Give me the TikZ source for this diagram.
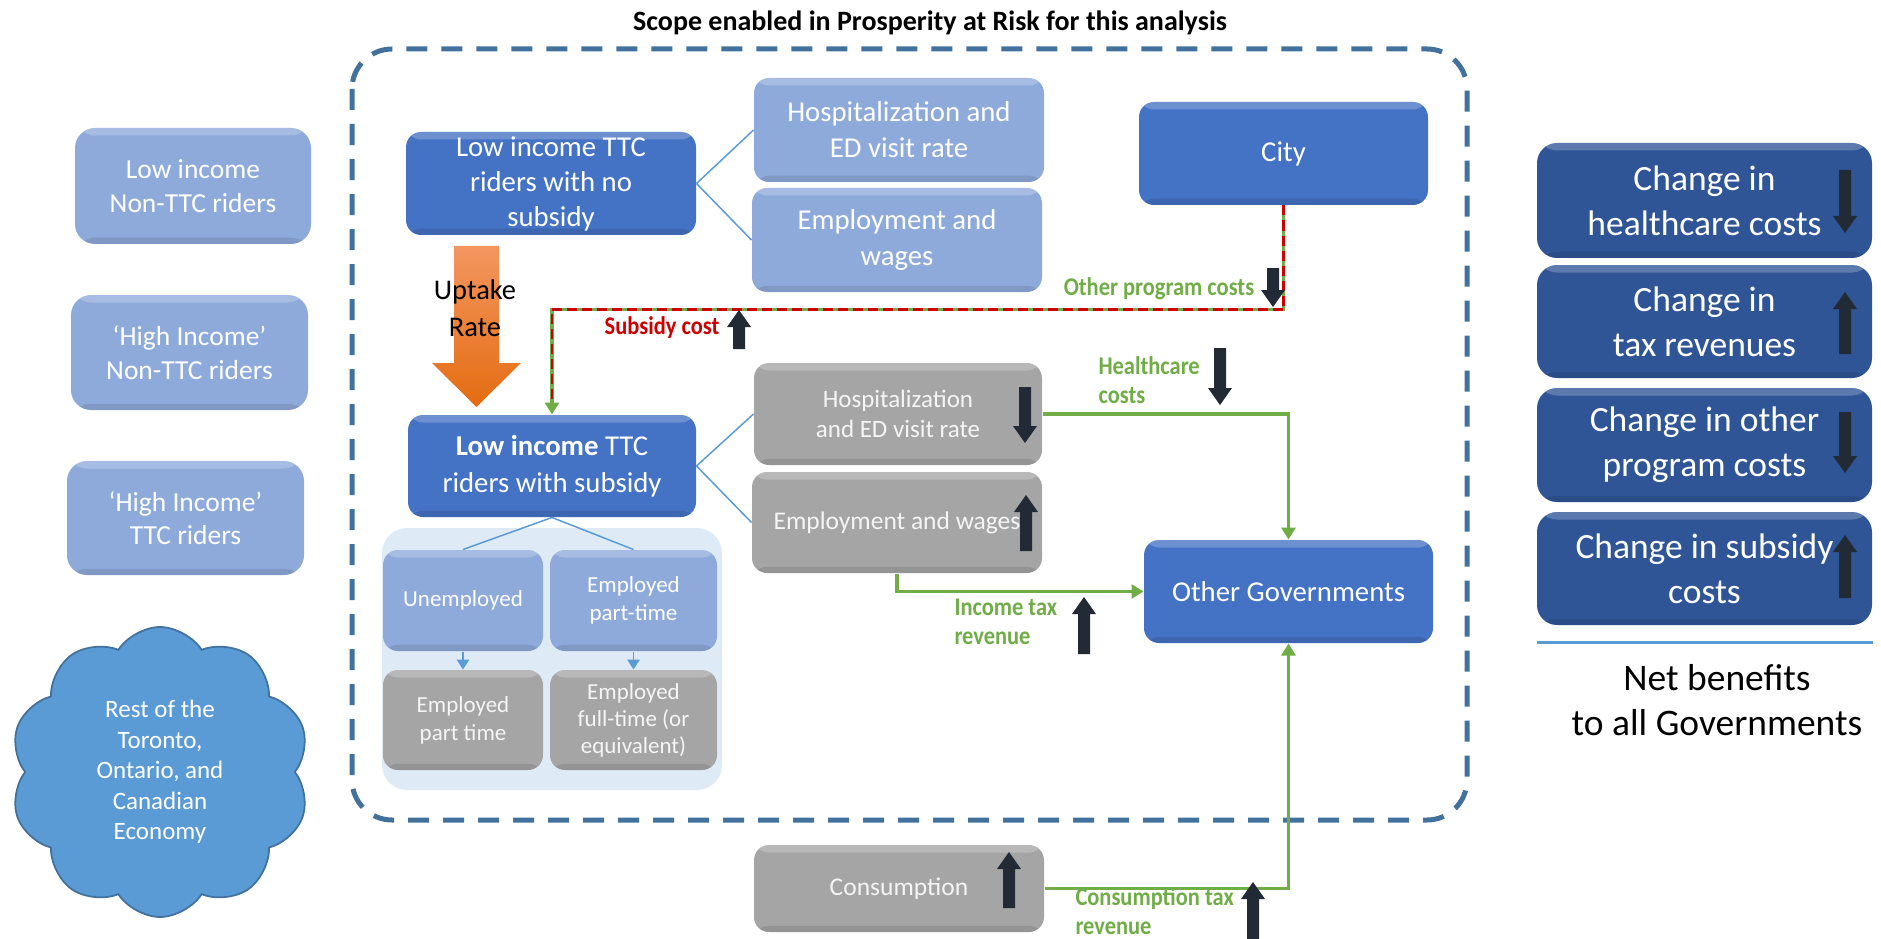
\documentclass[tikz,border=0pt]{standalone}
\usepackage{fontspec}
\setmainfont{Carlito}
\newfontfamily\lblfont[FakeStretch=0.88]{Carlito}
\usetikzlibrary{shapes.symbols,arrows.meta,calc}

\definecolor{lb}{RGB}{142,170,219}
\definecolor{mb}{RGB}{68,114,196}
\definecolor{db}{RGB}{47,85,151}
\definecolor{gr}{RGB}{165,165,165}
\definecolor{cl}{RGB}{91,155,213}
\definecolor{cledge}{RGB}{65,113,156}
\definecolor{pan}{RGB}{222,235,247}
\definecolor{grn}{RGB}{112,173,71}
\definecolor{rd}{RGB}{204,0,0}
\definecolor{nav}{RGB}{34,42,53}
\definecolor{dsh}{RGB}{65,113,156}
\definecolor{conn}{RGB}{91,155,213}
\definecolor{orlight}{RGB}{243,150,95}
\definecolor{ordark}{RGB}{228,108,18}

\newcommand\fsz[2]{\fontsize{#1}{#2}\selectfont}
\newcommand\UpArr[3]{\fill[nav] (#1-6,#3) -- (#1+6,#3) -- (#1+6,#2+17) -- (#1+12,#2+17) -- (#1,#2) -- (#1-12,#2+17) -- (#1-6,#2+17) -- cycle;}
\newcommand\DnArr[3]{\fill[nav] (#1-6,#2) -- (#1+6,#2) -- (#1+6,#3-17) -- (#1+12,#3-17) -- (#1,#3) -- (#1-12,#3-17) -- (#1-6,#3-17) -- cycle;}

\tikzset{
  sz/.style 2 args={minimum width={#1*0.4pt}, minimum height={#2*0.4pt}},
  bev/.style={rounded corners=6pt, text=white, align=center, inner sep=0pt,
    path picture={
      \fill[white,opacity=0.22] (path picture bounding box.north west) rectangle ([yshift=-3pt]path picture bounding box.north east);
      \fill[black,opacity=0.10] (path picture bounding box.south west) rectangle ([yshift=2.5pt]path picture bounding box.south east);
    }},
  lbox/.style={bev, fill=lb},
  mbox/.style={bev, fill=mb},
  dbox/.style={bev, fill=db, rounded corners=8pt},
  gbox/.style={bev, fill=gr, text={rgb,255:red,245;green,245;blue,245}},
  lbl/.style={font=\lblfont\bfseries\fsz{10.2}{11.8}, inner sep=0pt},
  thin/.style={draw=conn, line width=0.6pt},
  gline/.style={draw=grn, line width=1.3pt, -{Triangle[length=4.8pt,width=5.6pt]}},
}

\begin{document}
\begin{tikzpicture}[x=0.4pt, y=-0.4pt]
\useasboundingbox (0,0) rectangle (1881,939);

% title
\node[font=\bfseries\fsz{11.2}{13}] (title) at (930,23) {Scope enabled in Prosperity at Risk for this analysis};

% scope box
\draw[dsh, line width=2pt, dash pattern=on 8.4pt off 5.6pt, rounded corners=16pt] (352,49) rectangle (1467,820);

% left column
\node[lbox, sz={236}{116}, font=\fsz{11}{13.4}, rounded corners=8pt] (lownon) at (193,186) {Low income\\Non-TTC riders};
\node[lbox, sz={237}{115}, font=\fsz{11}{13.4}, rounded corners=8pt] (highnon) at (189.5,352.5) {‘High Income’\\Non-TTC riders};
\node[lbox, sz={237}{114}, font=\fsz{11}{13.4}, rounded corners=8pt] (highttc) at (185.5,518) {‘High Income’\\TTC riders};

% cloud
\node[cloud, cloud puffs=10, cloud puff arc=115, aspect=1, sz={300}{290}, fill=cl, draw=cledge, line width=0.7pt, text=white, align=center, font=\fsz{10}{12.2}, inner sep=0pt] (cloud) at (160,772) {Rest of the\\Toronto,\\Ontario, and\\Canadian\\Economy};

% panel for employment subgroups
\node[fill=pan, rounded corners=10pt, sz={340}{262}, inner sep=0pt] (panel) at (552,659) {};

% main boxes
\node[mbox, sz={290}{103}, font=\fsz{11.5}{14}] (nosub) at (551,183.5) {Low income TTC\\riders with no\\subsidy};
\node[lbox, sz={290}{104}, font=\fsz{11.5}{14.4}] (tophosp) at (899,130) {Hospitalization and\\ED visit rate};
\node[lbox, sz={290}{104}, font=\fsz{11.5}{14.4}] (topemp) at (897,240) {Employment and\\wages};
\node[mbox, sz={289}{103}, font=\fsz{11.5}{14}] (city) at (1283.5,153.5) {City};
\node[mbox, sz={288}{102}, font=\fsz{11.5}{14.8}] (withsub) at (552,466) {\textbf{Low income} TTC\\riders with subsidy};

\node[lbox, sz={160}{101}, font=\fsz{9.2}{11.2}] (unemp) at (463,600.5) {Unemployed};
\node[lbox, sz={167}{101}, font=\fsz{9.2}{11.2}] (emppt) at (633.5,600.5) {Employed\\part-time};
\node[gbox, sz={160}{100}, font=\fsz{9.2}{11.2}] (greypt) at (463,720) {Employed\\part time};
\node[gbox, sz={167}{100}, font=\fsz{9.2}{10.8}] (greyft) at (633.5,720) {Employed\\full-time (or\\equivalent)};

\node[gbox, sz={288}{102}, font=\fsz{10}{12}] (greyhosp) at (898,414) {Hospitalization\\and ED visit rate};
\node[gbox, sz={290}{101}, font=\fsz{10.2}{12}] (greyemp) at (897,522.5) {Employment and wages};
\node[mbox, sz={289}{103}, font=\fsz{11.5}{14}] (othergov) at (1288.5,591.5) {Other Governments};
\node[gbox, sz={290}{87}, font=\fsz{10.2}{12}] (consum) at (899,888.5) {Consumption};

% right column
\node[dbox, sz={335}{115}, font=\fsz{14.2}{18}] (r1) at (1704.5,200.5) {Change in\\healthcare costs};
\node[dbox, sz={335}{113}, font=\fsz{14.2}{18}] (r2) at (1704.5,321.5) {Change in\\tax revenues};
\node[dbox, sz={335}{114}, font=\fsz{14.2}{18}] (r3) at (1704.5,445) {Change in other\\program costs};
\node[dbox, sz={335}{113}, font=\fsz{14.2}{18}] (r4) at (1704.5,568.5) {Change in subsidy\\costs};
\draw[conn, line width=1.2pt] (r4.south west |- 0,642) coordinate (sepL) -- (r4.south east |- 0,642) coordinate (sepR);
\node[font=\fsz{15}{18}, align=center, inner sep=0pt] (net) at (1717,700) {Net benefits\\to all Governments};

% thin connectors
\draw[thin] (nosub.east) -- (tophosp.west);
\draw[thin] (nosub.east) -- (topemp.west);
\draw[thin] (withsub.east) -- (greyhosp.west);
\draw[thin] (withsub.east) -- (greyemp.west);
\draw[thin] (withsub.south) -- (unemp.north);
\draw[thin] (withsub.south) -- (emppt.north);
\draw[thin, -{Triangle[length=4pt,width=5pt]}] (unemp.south) -- (greypt.north);
\draw[thin, -{Triangle[length=4pt,width=5pt]}] (emppt.south) -- (greyft.north);

% uptake arrow
\shade[top color=orlight, bottom color=ordark] (454,246) -- (499,246) -- (499,363) -- (521,363) -- (476.5,407) -- (432,363) -- (454,363) -- cycle;
\node[font=\fsz{11.4}{14.8}, align=center, inner sep=0pt] (uptake) at (475,308) {Uptake\\Rate};

% green flows
\draw[gline] (city.south) -- ++(0,104) coordinate (cornerA) -| (withsub.north);
\draw[rd, line width=1.1pt, dash pattern=on 4pt off 2pt, shorten >=5pt] (city.south) -- (cornerA) -| (withsub.north);
\draw[gline] (greyhosp.east) -| (othergov.north);
\draw[gline] (greyemp.south) |- (othergov.west);
\draw[gline] (consum.east) -| (othergov.south);

% labels
\node[lbl, text=grn] (lopc) at (1159,289) {Other program costs};
\node[lbl, text=rd] (lsub) at (662,328) {Subsidy cost};
\node[lbl, text=grn, anchor=west, align=left] (lhc) at (1098,380) {Healthcare\\costs};
\node[lbl, text=grn, anchor=west, align=left] (lit) at (954,622) {Income tax\\revenue};
\node[lbl, text=grn, anchor=west, align=left] (lct) at (1075,911) {Consumption tax\\revenue};

% dark indicator arrows
\UpArr{739}{310}{349}
\DnArr{1273}{268}{307}
\DnArr{1025}{387}{443}
\UpArr{1026}{495}{551}
\DnArr{1220}{348}{405}
\UpArr{1084}{597}{654}
\UpArr{1009}{852}{908}
\UpArr{1253}{882}{939}
\DnArr{1845}{170}{233}
\UpArr{1845}{292}{354}
\DnArr{1845}{412}{473}
\UpArr{1845}{535}{598}
\end{tikzpicture}
\end{document}
